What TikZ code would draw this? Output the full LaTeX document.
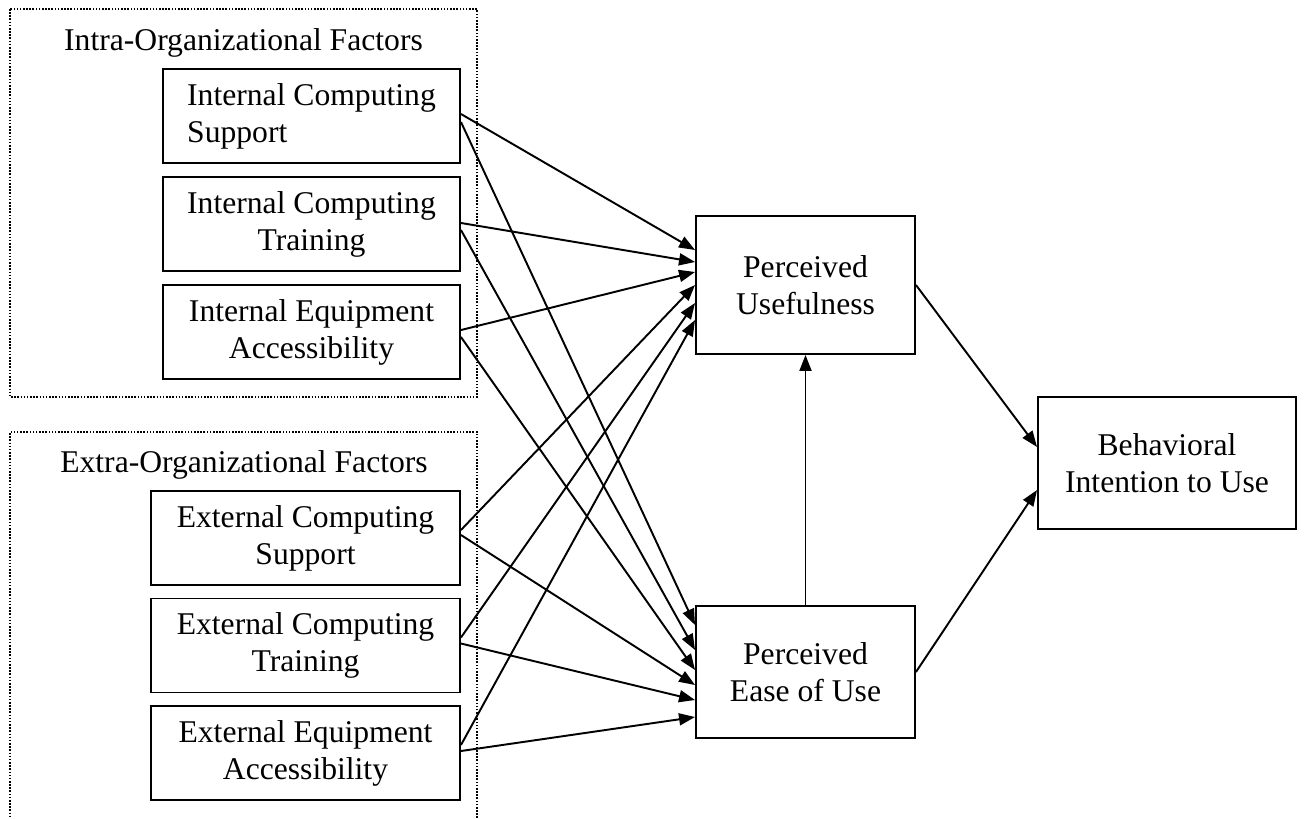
\documentclass[tikz,border=0pt]{standalone}
\usepackage{fontspec}
\setmainfont{Liberation Serif}
\usetikzlibrary{shapes,arrows.meta,positioning}
\tikzstyle{block} = [rectangle, draw, line width=1.1pt, align=center, minimum width=5.94cm, minimum height=1.88cm, inner sep=0pt]
\tikzstyle{outblock} = [block, minimum width=6.18cm]
\tikzstyle{model} = [block, minimum width=4.38cm, minimum height=2.76cm]
\tikzstyle{group} = [line width=0.9pt, dash pattern=on 0.9pt off 0.9pt]
\tikzstyle{arrow} = [line width=1.1pt, -{Triangle[length=0.32cm,width=0.24cm]}]

\begin{document}
\begin{tikzpicture}[node distance = 2.16cm, font=\fontsize{18}{21}\selectfont]
    \useasboundingbox (0,0) rectangle (26.16,-16.36);
    % Frames
    \draw [group] (0.2,-0.18) rectangle (9.54,-7.94);
    \draw [group] (9.54,-16.36) |- (0.2,-8.64) -- (0.2,-16.36);
    \node [anchor=base] (intra) at (4.87,-1.0) {Intra-Organizational Factors};
    \node [anchor=base] (extra) at (4.88,-9.44) {Extra-Organizational Factors};

    % Place nodes
    \node [block, align=left] (ics) at (6.23,-2.32) {Internal Computing\\Support};
    \node [block, below of=ics] (ict) {Internal Computing\\Training};
    \node [block, below of=ict] (iea) {Internal Equipment\\Accessibility};
    \node [outblock] (ecs) at (6.11,-10.76) {External Computing\\Support};
    \node [outblock, below of=ecs, node distance=2.15cm] (ect) {External Computing\\Training};
    \node [outblock, below of=ect, node distance=2.15cm] (eea) {External Equipment\\Accessibility};
    \node [model] (pu) at (16.11,-5.70) {Perceived\\Usefulness};
    \node [model, minimum height=2.64cm] (peou) at (16.11,-13.44) {Perceived\\Ease of Use};
    \node [block, minimum width=5.16cm, minimum height=2.64cm] (bi) at (23.34,-9.26) {Behavioral\\Intention to Use};

    % Arrows to usefulness
    \draw [arrow] ([yshift=0.04cm]ics.east) -- ([yshift=0.70cm]pu.west);
    \draw [arrow] ([yshift=0.02cm]ict.east) -- ([yshift=0.46cm]pu.west);
    \draw [arrow] ([yshift=0.04cm]iea.east) -- ([yshift=0.26cm]pu.west);
    \draw [arrow] ([yshift=0.16cm]ecs.east) -- ([yshift=0.00cm]pu.west);
    \draw [arrow] ([yshift=0.16cm]ect.east) -- ([yshift=-0.36cm]pu.west);
    \draw [arrow] ([yshift=0.16cm]eea.east) -- ([yshift=-0.70cm]pu.west);

    % Arrows to ease of use
    \draw [arrow] ([yshift=-0.12cm]ics.east) -- ([yshift=0.94cm]peou.west);
    \draw [arrow] ([yshift=-0.12cm]ict.east) -- ([yshift=0.44cm]peou.west);
    \draw [arrow] ([yshift=-0.10cm]iea.east) -- ([yshift=0.04cm]peou.west);
    \draw [arrow] ([yshift=0.06cm]ecs.east) -- ([yshift=-0.26cm]peou.west);
    \draw [arrow] ([yshift=0.04cm]ect.east) -- ([yshift=-0.56cm]peou.west);
    \draw [arrow] ([yshift=0.04cm]eea.east) -- ([yshift=-0.90cm]peou.west);

    \draw [arrow] (peou) -- (pu);
    \draw [arrow] (pu.east) -- ([yshift=0.32cm]bi.west);
    \draw [arrow] (peou.east) -- ([yshift=-0.54cm]bi.west);
\end{tikzpicture}
\end{document}
